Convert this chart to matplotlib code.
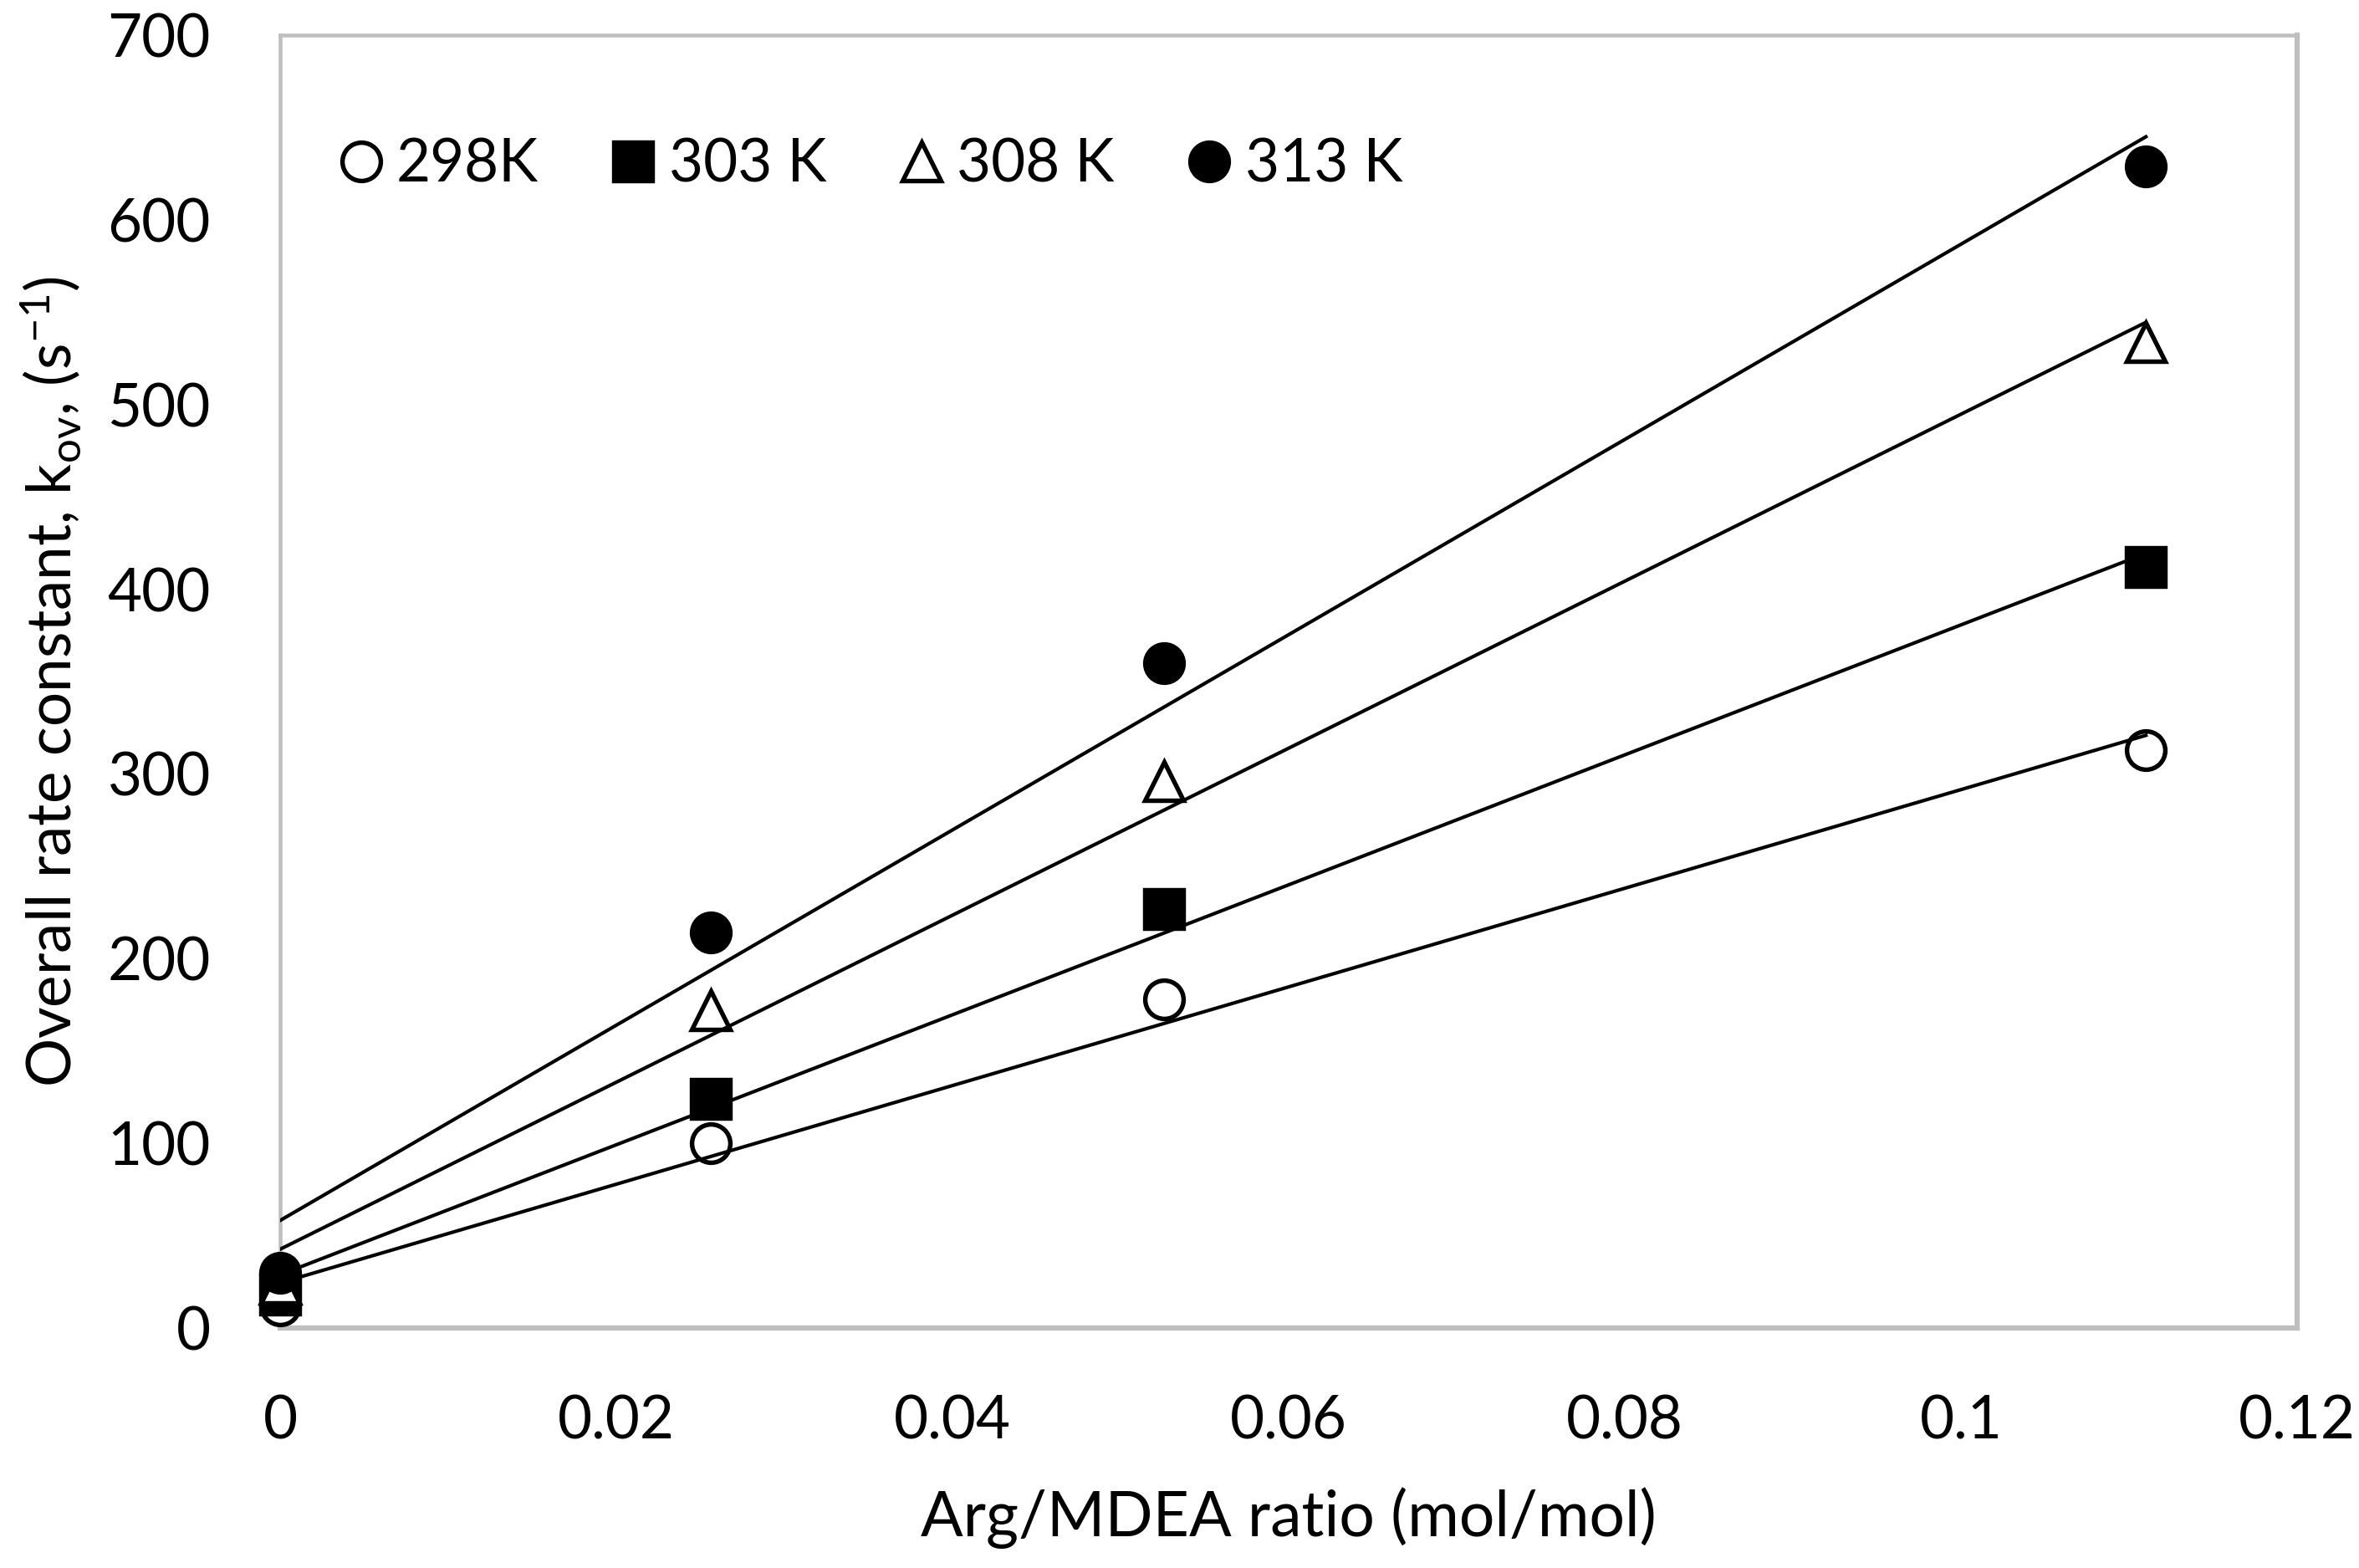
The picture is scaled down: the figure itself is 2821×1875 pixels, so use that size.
import numpy as np
import matplotlib
matplotlib.use("Agg")
import matplotlib.pyplot as plt
from matplotlib.ticker import FuncFormatter

plt.rcParams['font.family'] = ['Lato', 'DejaVu Sans']
plt.rcParams['mathtext.default'] = 'regular'

# ====== DATA ======
ratio = [0, 0.0256, 0.0526, 0.111]
k_298 = [12, 100, 178, 313]
k_303 = [18, 124, 227, 412]
k_308 = [24, 172, 296, 534]
k_313 = [30, 214, 360, 629]

series = [
    ("298K", k_298, "o", "white"),
    ("303 K", k_303, "s", "black"),
    ("308 K", k_308, "^", "white"),
    ("313 K", k_313, "o", "black"),
]

fig = plt.figure(figsize=(2821 / 300, 1875 / 300), dpi=300)
ax = fig.add_axes([0.1188, 0.1531, 0.855, 0.8245])

for label, vals, mk, fc in series:
    ax.plot(ratio, vals, linestyle="none", marker=mk, markersize=11,
            markerfacecolor=fc, markeredgecolor="black", markeredgewidth=1.3,
            label=label, clip_on=False, zorder=3)
    # linear trendline (Excel style)
    m, b = np.polyfit(ratio, vals, 1)
    xs = np.array([min(ratio), max(ratio)])
    ax.plot(xs, m * xs + b, color="black", lw=1.0, zorder=4)

ax.set_xlim(0, 0.12)
ax.set_ylim(0, 700)
ax.set_xticks(np.arange(0, 0.1201, 0.02))
ax.set_yticks(np.arange(0, 701, 100))
ax.xaxis.set_major_formatter(FuncFormatter(lambda v, p: f"{round(v, 4):g}"))
ax.tick_params(axis="both", length=0, labelsize=17)
ax.tick_params(axis="x", pad=19)
ax.tick_params(axis="y", pad=20)

for side in ["top", "right", "left", "bottom"]:
    ax.spines[side].set_color("#BFBFBF")
    ax.spines[side].set_linewidth(1.1)
ax.spines["bottom"].set_linewidth(1.5)
ax.spines["right"].set_linewidth(1.5)

ax.set_xlabel("Arg/MDEA ratio (mol/mol)", fontsize=18, labelpad=11)
ax.set_ylabel("Overall rate constant, k$_{ov}$, (s$^{-1}$)", fontsize=17.5, labelpad=7)

ax.legend(loc="upper left", bbox_to_anchor=(0.015, 0.939), ncol=4, frameon=False,
          fontsize=17, handlelength=0.9, handletextpad=0.15, columnspacing=1.15,
          borderaxespad=0)

fig.savefig("out.png", dpi=300)
